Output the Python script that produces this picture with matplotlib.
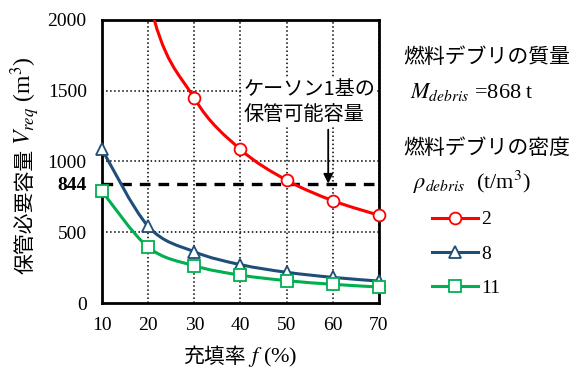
import numpy as np
import matplotlib
matplotlib.use('Agg')
import matplotlib.pyplot as plt
from matplotlib.path import Path
from matplotlib.patches import PathPatch, Rectangle
from matplotlib.lines import Line2D

plt.rcParams['font.family'] = ['Liberation Serif', 'Noto Sans CJK JP']
plt.rcParams['mathtext.fontset'] = 'stix'

# 充填率 f (%)
fill_rate = [10, 20, 30, 40, 50, 60, 70]
# 密度別の保管必要容量 (m3)  ※ρ=2 の 10,20% は図の上限外
v_req_2 = [4340, 2170, 1447, 1085, 868, 723, 620]
v_req_8 = [1085, 542, 362, 271, 217, 181, 155]
v_req_11 = [789, 395, 263, 197, 158, 132, 113]
caisson_cap = 844
yticks = [0, 500, 844, 1000, 1500, 2000]
ygrid = [500, 1000, 1500]
jp = ['Noto Sans CJK JP']


def smooth_path(x, y):
    # Excel風のスムージング線 (Bezier)
    p = np.column_stack([x, y]).astype(float)
    n = len(p)
    verts = [p[0]]
    codes = [Path.MOVETO]
    for i in range(n - 1):
        p0 = p[i - 1] if i > 0 else p[i]
        p3 = p[i + 2] if i + 2 < n else p[i + 1]
        c1 = p[i] + (p[i + 1] - p0) / 6
        c2 = p[i + 1] - (p3 - p[i]) / 6
        verts += [c1, c2, p[i + 1]]
        codes += [Path.CURVE4] * 3
    return Path(verts, codes)


fig = plt.figure(figsize=(5.87, 3.72), dpi=100)
ax = fig.add_axes([102 / 587, 1 - 303 / 372, 277 / 587, 283 / 372])

clip = Rectangle((-0.05, -0.05), 1.1, 1.05, transform=ax.transAxes)

series = [(v_req_2, '#FF0000', 'o', '2'),
          (v_req_8, '#1F4E79', '^', '8'),
          (v_req_11, '#00B050', 's', '11')]
handles = []
for ys, col, mk, lab in series:
    patch = PathPatch(smooth_path(fill_rate, ys), facecolor='none', edgecolor=col, lw=2.2,
                      zorder=3)
    ax.add_patch(patch)
    patch.set_clip_path(clip)
    ln, = ax.plot(fill_rate, ys, mk, color=col, mfc='white', mec=col,
                  ms=8.5 if mk != '^' else 9, mew=1.3, zorder=4)
    ln.set_clip_path(clip)
    handles.append(Line2D([], [], color=col, lw=2.2, marker=mk, mfc='white', mec=col,
                          ms=8.5 if mk != '^' else 9, mew=1.3, label=lab))

ax.axhline(caisson_cap, color='black', lw=2.4, dashes=(3.2, 2.4), zorder=2)

ax.set_xlim(10, 70)
ax.set_ylim(0, 2000)
ax.set_xticks(fill_rate)
ax.set_yticks(yticks)
ax.grid(True, axis='x', ls=':', color='black', lw=1.1)
for g in ygrid:
    ax.axhline(g, ls=':', color='black', lw=1.1, zorder=1)
ax.tick_params(length=0, labelsize=14)
ax.tick_params(axis='y', pad=11)
ax.tick_params(axis='x', pad=10)
for t in ax.get_yticklabels():
    if t.get_text() == '844':
        t.set_fontweight('bold')
for s in ax.spines.values():
    s.set_linewidth(2)
    s.set_color('black')

ax.text(40.6, 1580, 'ケーソン1基の\n保管可能容量', fontsize=14.5, family=jp, va='top',
        ha='left', linespacing=1.25,
        bbox=dict(facecolor='white', edgecolor='none', pad=1), zorder=5)
ax.annotate('', xy=(59, caisson_cap), xytext=(59, 1225),
            arrowprops=dict(arrowstyle='-|>', color='black', lw=1.3, mutation_scale=14,
                            shrinkA=0, shrinkB=0), zorder=6)

# 軸ラベル
fig.canvas.draw()
r = fig.canvas.get_renderer()
W, H = fig.bbox.width, fig.bbox.height

t1 = fig.text(26 / W, 1 - 274 / H, '保管必要容量', rotation=90, ha='center', va='bottom',
              fontsize=15, family=jp)
bb = t1.get_window_extent(r)
fig.text(25 / W, (bb.y1 + 4) / H, r'$V_{req}$ (m$^3$)', rotation=90, ha='center',
         va='bottom', fontsize=17)

t2 = fig.text(183 / W, 1 - 357 / H, '充填率', ha='left', va='center', fontsize=15, family=jp)
bb = t2.get_window_extent(r)
fig.text((bb.x1 + 2) / W, 1 - 357 / H, r'$f$ (%)', ha='left', va='center', fontsize=16)

# 右側の説明
fig.text(403 / W, 1 - 57 / H, '燃料デブリの質量', fontsize=15, family=jp, va='center')
fig.text(410 / W, 1 - 92 / H, r'$M_{debris}$ =868 t', fontsize=16, va='center')
fig.text(403 / W, 1 - 148 / H, '燃料デブリの密度', fontsize=15, family=jp, va='center')
fig.text(413 / W, 1 - 182 / H, r'$\rho_{debris}$  (t/m$^3$)', fontsize=16, va='center')

fig.legend(handles=handles, loc='upper left', bbox_to_anchor=(424 / W, 1 - 203 / H),
           frameon=False, fontsize=14, handlelength=2.4, handletextpad=0.15,
           labelspacing=0.85, borderaxespad=0)

fig.savefig('out.png', dpi=100)
